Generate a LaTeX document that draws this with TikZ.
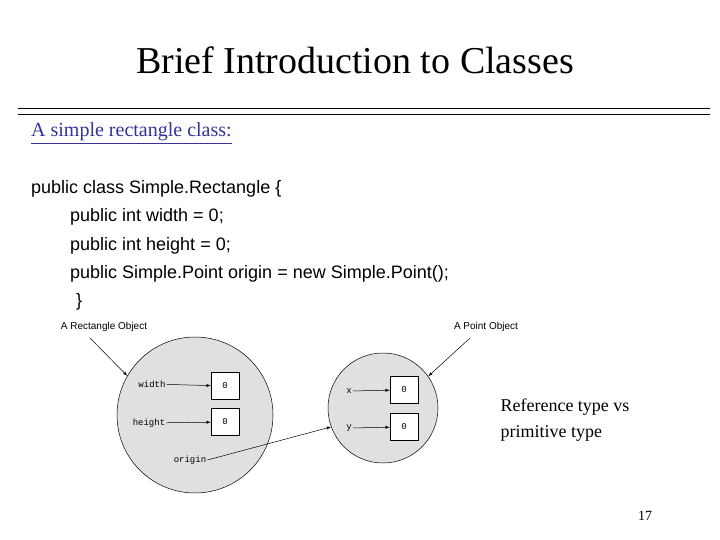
\documentclass[tikz,border=0pt]{standalone}
\usepackage{fontspec}
\setmainfont{Liberation Serif}
\setsansfont{Liberation Sans}
\setmonofont{Liberation Mono}
\usetikzlibrary{positioning}
\definecolor{cgrey}{RGB}{224,224,224}
\definecolor{cnavy}{RGB}{51,51,153}

\begin{document}
\begin{tikzpicture}[
    x=1pt, y=-1pt,
    >=latex,
    obj/.style={circle, draw, fill=cgrey, line width=0.5pt},
    cell/.style={draw, fill=white, minimum width=28pt, minimum height=27pt, font=\ttfamily\small, inner sep=0pt},
    fld/.style={font=\ttfamily\small, inner sep=1pt},
    code/.style={font=\sffamily\fontsize{18}{20}\selectfont, anchor=base west, inner sep=0pt},
    objlabel/.style={font=\sffamily\fontsize{10}{12}\selectfont},
    arr/.style={->, line width=0.5pt},
  ]
  \useasboundingbox (0,0) rectangle (720,540);

  %% Header
  \node[font=\fontsize{38}{40}\selectfont] (title) at (355,60) {Brief Introduction to Classes};
  \draw[line width=0.8pt] (18,108) -- (710,108);
  \draw[line width=0.8pt] (18,114) -- (710,114);
  \node[anchor=base west, inner sep=0pt, text=cnavy, font=\fontsize{20}{22}\selectfont] (sub) at (31,137)
    {\underline{A simple rectangle class:}};

  %% Code
  \node[code] (c1) at (31,194) {public class Simple.Rectangle \{};
  \node[code] (c2) at (70,222) {public int width = 0;};
  \node[code] (c3) at (70,250) {public int height = 0;};
  \node[code] (c4) at (70,278) {public Simple.Point origin = new Simple.Point();};
  \node[code] (c5) at (76,306) {\}};

  %% Objects
  \node[obj, minimum size=156pt] (rect) at (195,415) {};
  \node[obj, minimum size=110pt] (pt) at (383,408) {};

  \node[cell] (wv) at (225,386) {0};
  \node[cell] (hv) at (225,422) {0};
  \node[cell] (xv) at (404,390) {0};
  \node[cell] (yv) at (404,427) {0};

  \node[fld] (w) at (152,384) {width};
  \node[fld] (h) at (149,423) {height};
  \node[fld] (o) at (190,460) {origin};
  \node[fld] (x) at (349,391) {x};
  \node[fld] (y) at (349,428) {y};

  \draw[arr] (w) -- (wv);
  \draw[arr] (h) -- (hv);
  \draw[arr] (x) -- (xv);
  \draw[arr] (y) -- (yv);
  \draw[arr] (o.east) -- (pt.200);

  %% Captions
  \node[objlabel] (rcap) at (104,327) {A Rectangle Object};
  \node[objlabel] (pcap) at (486,327) {A Point Object};
  \coordinate (ra) at (90,338);
  \coordinate (pa) at (470,338);
  \draw[arr] (ra) -- (rect.150);
  \draw[arr] (pa) -- (pt.35);

  \node[align=left, anchor=west, font=\fontsize{18}{26}\selectfont] (note) at (497,420)
    {Reference type vs\\primitive type};
  \node[font=\fontsize{14}{16}\selectfont] (num) at (645,516) {17};
\end{tikzpicture}
\end{document}
